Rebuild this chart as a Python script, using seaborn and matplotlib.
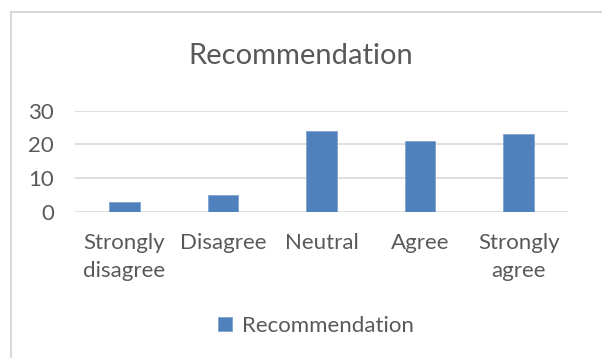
import matplotlib
matplotlib.use("Agg")
import matplotlib.pyplot as plt
import seaborn as sns
import pandas as pd
from matplotlib.lines import Line2D

categories = ["Strongly\ndisagree", "Disagree", "Neutral", "Agree", "Strongly\nagree"]
values = [3, 5, 24, 21, 23]
series_name = "Recommendation"
y_ticks = [0, 10, 20, 30]

sns.set_theme(style="white")
plt.rcParams["font.family"] = ["Lato", "DejaVu Sans"]

text_color = "#595959"
bar_color = "#4f81bd"

df = pd.DataFrame({"category": categories, "value": values})

fig = plt.figure(figsize=(6.02, 3.58), dpi=100)
ax = fig.add_axes([0.1246, 0.4087, 0.8189, 0.2821])

sns.barplot(data=df, x="category", y="value", color=bar_color, width=0.31,
            saturation=1, edgecolor="#7fa3d1", linewidth=0.6,
            label=series_name, ax=ax, zorder=3)

ax.set_ylim(0, 30)
ax.set_yticks(y_ticks)
ax.set_xlim(-0.5, len(categories) - 0.5)
ax.grid(axis="y", color="#d9d9d9", linewidth=1.2, zorder=0)
ax.set_axisbelow(True)
for s in ax.spines.values():
    s.set_visible(False)
ax.set_xlabel("")
ax.set_ylabel("")
ax.tick_params(axis="y", length=0, pad=15, labelsize=16, labelcolor=text_color)
ax.tick_params(axis="x", length=0, pad=15, labelsize=16, labelcolor=text_color)
for lbl in ax.get_xticklabels():
    lbl.set_linespacing(1.5)

fig.text(0.5, 0.843, "Recommendation", ha="center", va="center",
         fontsize=21, color=text_color)

leg = ax.legend(loc="center", bbox_to_anchor=(0.525, 0.09), bbox_transform=fig.transFigure,
                frameon=False, fontsize=16, handlelength=0.6, handleheight=0.6,
                handletextpad=0.45, labelcolor=text_color)

# chart area border
fig.add_artist(Line2D([11 / 602, 11 / 602], [0, 1 - 12 / 358], transform=fig.transFigure,
                      color="#d9d9d9", linewidth=1.5))
fig.add_artist(Line2D([11 / 602, 1], [1 - 12 / 358, 1 - 12 / 358], transform=fig.transFigure,
                      color="#d9d9d9", linewidth=1.5))

fig.savefig("out.png", dpi=100, facecolor="white")
